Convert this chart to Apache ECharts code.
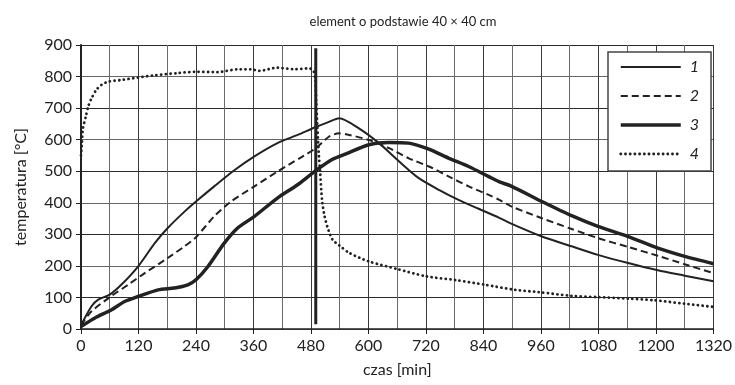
<!DOCTYPE html>
<html><head><meta charset="utf-8">
<script src="https://cdn.jsdelivr.net/npm/echarts@6/dist/echarts.min.js"></script>
<style>html,body{margin:0;padding:0;background:#fff}#c{width:735px;height:385px}</style>
</head><body><div id="c"></div>
<script>
const titleText = 'element o podstawie 40 × 40 cm';
const xName = 'czas [min]';
const yName = 'temperatura [°C]';
const seriesNames = ['1', '2', '3', '4'];

const t1 = [0,22,36,60,84,119,154,181,216,240,278,320,362,410,452,490,515,539,580,622,664,705,747,788,830,872,899,962,1024,1079,1142,1204,1260,1320];
const v1 = [12,72,93,109,140,198,272,320,372,404,452,503,547,589,615,640,655,668,636,589,531,478,441,409,381,353,333,293,262,235,209,186,169,151];

const t2 = [0,22,64,98,133,181,216,240,278,313,362,410,456,490,518,539,560,601,643,684,726,768,809,851,872,899,962,1024,1079,1142,1204,1260,1320];
const v2 = [12,56,105,140,177,225,262,291,357,404,452,499,541,573,610,620,615,599,573,541,515,483,452,425,410,388,351,317,288,260,232,205,177];

const t3 = [0,29,64,91,119,161,195,223,240,265,299,327,362,410,452,490,525,553,601,643,684,726,768,809,851,872,899,962,1024,1079,1142,1204,1260,1320];
const v3 = [8,35,61,87,103,124,130,140,156,198,272,320,357,415,457,502,538,555,584,591,589,570,541,515,483,467,452,404,359,325,293,256,230,207];

const t4 = [0,2,4,10,15,22,32,43,57,84,119,154,202,237,285,327,355,372,410,445,476,485,489,491,493,496,499,503,508,515,525,539,560,601,660,720,782,844,906,955,1024,1079,1142,1197,1260,1320];
const v4 = [550,590,636,673,705,731,758,774,784,789,797,804,811,815,814,823,823,818,828,823,826,819,790,720,650,560,500,410,360,320,283,265,241,214,190,167,155,140,124,117,105,101,96,91,80,70];

const markerT = [490, 490];
const markerV = [15, 890];

const xTicks = [0,120,240,360,480,600,720,840,960,1080,1200,1320];
const yTicks = [0,100,200,300,400,500,600,700,800,900];

function pairs(t, v) { return t.map((x, i) => [x, v[i]]); }

const FONT = 'Lato';
const chart = echarts.init(document.getElementById('c'), null, {renderer: 'canvas'});
chart.setOption({
  animation: false,
  backgroundColor: '#fff',
  title: {
    text: titleText, left: 398, top: 10, textAlign: 'center',
    textStyle: {fontFamily: FONT, fontSize: 13, fontWeight: 'normal', color: '#222'}
  },
  grid: {left: 81, right: 18, top: 45, bottom: 56},
  legend: {
    left: 608, top: 52, orient: 'vertical',
    data: seriesNames,
    itemWidth: 60, itemHeight: 14, itemGap: 13,
    padding: [7, 12, 9, 11],
    backgroundColor: '#fff', borderColor: '#444', borderWidth: 1.5,
    itemStyle: {opacity: 0},
    lineStyle: {width: 'inherit', type: 'inherit', cap: 'inherit'},
    textStyle: {fontFamily: FONT, fontSize: 16, fontStyle: 'italic', color: '#222', padding: [0, 0, 0, 4]}
  },
  xAxis: {
    type: 'value', min: 0, max: 1320, interval: 120,
    name: xName, nameLocation: 'middle', nameGap: 33,
    nameTextStyle: {fontFamily: FONT, fontSize: 16, color: '#222'},
    axisLine: {show: true, lineStyle: {color: '#222', width: 1.5}},
    axisTick: {show: true, length: 5, lineStyle: {color: '#222'}},
    axisLabel: {fontFamily: FONT, fontSize: 16, color: '#222', margin: 9,
      formatter: v => xTicks.includes(v) ? String(v) : ''},
    splitLine: {show: true, lineStyle: {color: '#3a3a3a', width: 1}},
    minorTick: {show: false, splitNumber: 2},
    minorSplitLine: {show: true, lineStyle: {color: '#6a6a6a', width: 1}}
  },
  yAxis: {
    type: 'value', min: 0, max: 900, interval: 100,
    name: yName, nameLocation: 'middle', nameGap: 52, nameRotate: 90,
    nameTextStyle: {fontFamily: FONT, fontSize: 16, color: '#222'},
    axisLine: {show: true, lineStyle: {color: '#222', width: 2}},
    axisTick: {show: true, length: 5, lineStyle: {color: '#222'}},
    axisLabel: {fontFamily: FONT, fontSize: 16, color: '#222', margin: 9,
      formatter: v => yTicks.includes(v) ? String(v) : ''},
    splitLine: {show: true, lineStyle: {color: ['#666','#2a2a2a','#666','#2a2a2a','#666','#2a2a2a','#666','#2a2a2a','#666','#2a2a2a'], width: 1}}
  },
  series: [
    {name: seriesNames[0], type: 'line', data: pairs(t1, v1), symbol: 'none', smooth: 0.25,
      lineStyle: {color: '#222', width: 2, type: 'solid'}, itemStyle: {color: '#222'}, z: 3},
    {name: seriesNames[1], type: 'line', data: pairs(t2, v2), symbol: 'none', smooth: 0.25,
      lineStyle: {color: '#222', width: 2, type: [7, 4]}, itemStyle: {color: '#222'}, z: 3},
    {name: seriesNames[2], type: 'line', data: pairs(t3, v3), symbol: 'none', smooth: 0.25,
      lineStyle: {color: '#222', width: 3.5, type: 'solid'}, itemStyle: {color: '#222'}, z: 3},
    {name: seriesNames[3], type: 'line', data: pairs(t4, v4), symbol: 'none', smooth: 0.25,
      lineStyle: {color: '#222', width: 2.8, type: [0.1, 4.6], cap: 'round'}, itemStyle: {color: '#222'}, z: 3},
    {name: 'marker', type: 'line', data: pairs(markerT, markerV), symbol: 'none',
      lineStyle: {color: '#222', width: 3}, z: 4, silent: true}
  ]
});
</script>
</body></html>
